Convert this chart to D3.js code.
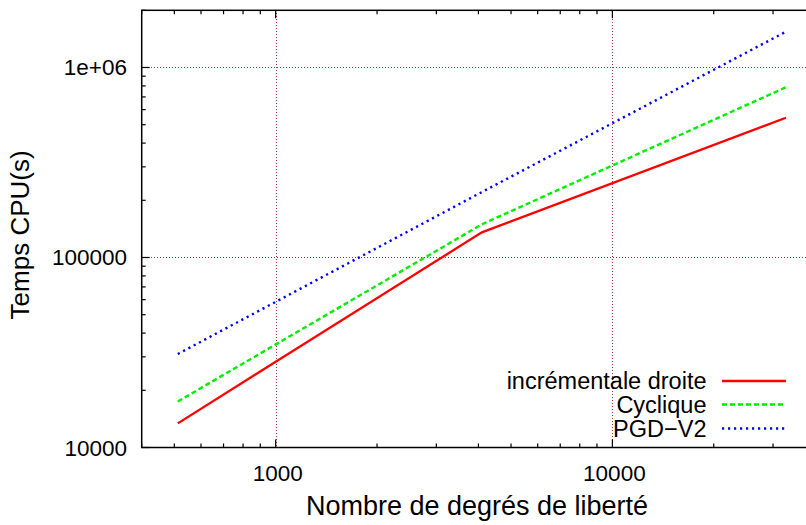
<!DOCTYPE html>
<html>
<head>
<meta charset="utf-8">
<script src="https://cdn.jsdelivr.net/npm/d3@7"></script>
<style>
  html, body { margin: 0; padding: 0; background: #fff; }
  svg { display: block; }
  text { font-family: "Liberation Sans", Arial, Helvetica, sans-serif; fill: #000; }
</style>
</head>
<body>
<svg id="chart" width="806" height="525"></svg>
<script>
// ---- data ----
const dof = [512, 4096, 32768];
const incrementale = [13400, 135700, 544000];
const cyclique = [17460, 149500, 787000];
const pgdV2 = [31050, 221000, 1543000];
const seriesNames = ["incrémentale droite", "Cyclique", "PGD\u2212V2"];
const xTickValues = [1000, 10000];
const xTickLabels = ["1000", "10000"];
const yTickValues = [10000, 100000, 1000000];
const yTickLabels = ["10000", "100000", "1e+06"];
const xLabel = "Nombre de degrés de liberté";
const yLabel = "Temps CPU(s)";

// ---- layout ----
const svg = d3.select("#chart");
const L = 141.7, T = 10.3, B = 447.5;
const x = d3.scaleLog().domain([400, 40000]).range([L, 815.1]);
const y = d3.scaleLog().domain([10000, 2000000]).range([B, T]);
const R = x.range()[1];
const px = v => Math.round(v) + 0.5;

const series = [
  { name: seriesNames[0], values: incrementale, color: "#ff0000", dash: null, width: 2.3 },
  { name: seriesNames[1], values: cyclique, color: "#00ee00", dash: "5,3", width: 2.4 },
  { name: seriesNames[2], values: pgdV2, color: "#0000ff", dash: "2.2,3.8", width: 2.4 }
];

// grid
const grid = svg.append("g").attr("shape-rendering", "crispEdges");
xTickValues.forEach(v => {
  grid.append("line").attr("x1", px(x(v))).attr("x2", px(x(v))).attr("y1", T).attr("y2", B)
    .attr("stroke", "#a03c3c").attr("stroke-width", 1).attr("stroke-dasharray", "1,2");
});
yTickValues.slice(1).forEach(v => {
  grid.append("line").attr("x1", L).attr("x2", R).attr("y1", px(y(v))).attr("y2", px(y(v)))
    .attr("stroke", "#a03c3c").attr("stroke-width", 1).attr("stroke-dasharray", "1,2");
});

// minor / major ticks (inward, mirrored)
const xMinor = [];
[100, 1000, 10000].forEach(d => { for (let k = 2; k <= 9; k++) { const v = d * k; if (v >= 400 && v <= 40000) xMinor.push(v); } });
const yMinor = [];
[10000, 100000, 1000000].forEach(d => { for (let k = 2; k <= 9; k++) { const v = d * k; if (v > 10000 && v <= 2000000) yMinor.push(v); } });

const ticks = svg.append("g").attr("stroke", "#000").attr("stroke-width", 1.2);
function xt(v, len) {
  ticks.append("line").attr("x1", x(v)).attr("x2", x(v)).attr("y1", B).attr("y2", B - len);
  ticks.append("line").attr("x1", x(v)).attr("x2", x(v)).attr("y1", T).attr("y2", T + len);
}
function yt(v, len) {
  ticks.append("line").attr("x1", L).attr("x2", L + len).attr("y1", y(v)).attr("y2", y(v));
  ticks.append("line").attr("x1", R).attr("x2", R - len).attr("y1", y(v)).attr("y2", y(v));
}
xMinor.forEach(v => xt(v, 4));
xTickValues.forEach(v => xt(v, 8));
yMinor.forEach(v => yt(v, 4));
yTickValues.forEach(v => yt(v, 8));

// frame
svg.append("rect").attr("x", L).attr("y", T).attr("width", R - L).attr("height", B - T)
  .attr("fill", "none").attr("stroke", "#000").attr("stroke-width", 1.5);

// tick labels
xTickValues.forEach((v, i) => {
  svg.append("text").attr("x", x(v) + 2).attr("y", 481).attr("text-anchor", "middle")
    .attr("font-size", "22.5px").text(xTickLabels[i]);
});
yTickValues.forEach((v, i) => {
  svg.append("text").attr("x", 127).attr("y", y(v) + 8).attr("text-anchor", "end")
    .attr("font-size", "22.5px").text(yTickLabels[i]);
});

// axis titles
svg.append("text").attr("x", 477).attr("y", 515).attr("text-anchor", "middle")
  .attr("font-size", "27px").text(xLabel);
svg.append("text").attr("transform", `translate(29,${(T + B) / 2 + 6}) rotate(-90)`)
  .attr("text-anchor", "middle").attr("font-size", "26px").text(yLabel);

// series lines
const line = d3.line().x(d => x(d[0])).y(d => y(d[1]));
series.forEach(s => {
  const pts = dof.map((d, i) => [d, s.values[i]]);
  svg.append("path").attr("d", line(pts)).attr("fill", "none")
    .attr("stroke", s.color).attr("stroke-width", s.width)
    .attr("stroke-dasharray", s.dash);
});

// legend
const legY = [381, 404.5, 428.5];
series.forEach((s, i) => {
  svg.append("text").attr("x", 706.5).attr("y", legY[i] + 8).attr("text-anchor", "end")
    .attr("font-size", "23.5px").text(s.name);
  svg.append("line").attr("x1", 722).attr("x2", 786).attr("y1", legY[i]).attr("y2", legY[i])
    .attr("stroke", s.color).attr("stroke-width", s.width).attr("stroke-dasharray", s.dash);
});
</script>
</body>
</html>
